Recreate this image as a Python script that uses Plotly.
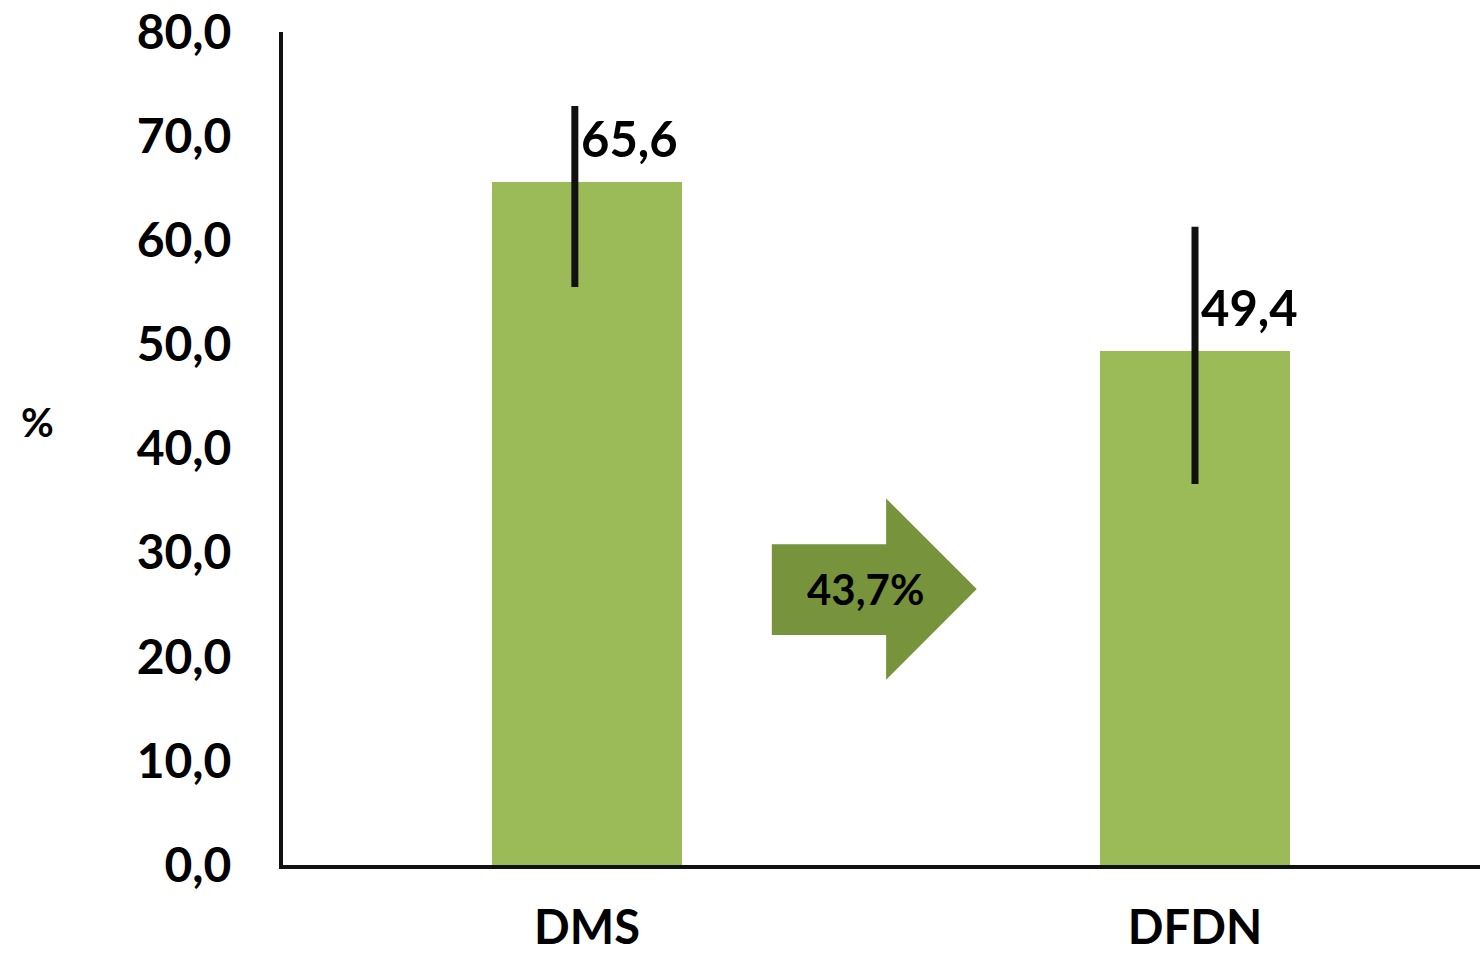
import plotly.graph_objects as go

# Data
categories = ["DMS", "DFDN"]
values = [65.6, 49.4]
err_low = [55.5, 36.6]
err_high = [72.9, 61.3]
err_offset = [-0.02, 0.0]  # horizontal offset of each error line (category units)
value_labels = ["65,6", "49,4"]
change_label = "43,7%"
y_ticks = [0, 10, 20, 30, 40, 50, 60, 70, 80]

BAR_COLOR = "#9BBB59"
ARROW_COLOR = "#77933C"
FONT = "Lato"

x_pos = list(range(len(categories)))

fig = go.Figure()

fig.add_trace(go.Bar(
    x=x_pos, y=values, width=0.314,
    marker=dict(color=BAR_COLOR, line=dict(width=0)),
    showlegend=False, hoverinfo="skip",
))

# Error lines
for xi, lo, hi, off in zip(x_pos, err_low, err_high, err_offset):
    fig.add_trace(go.Scatter(
        x=[xi + off, xi + off], y=[lo, hi], mode="lines",
        line=dict(color="#111111", width=7),
        showlegend=False, hoverinfo="skip",
    ))

# Value labels next to the error lines
for xi, v, txt, off in zip(x_pos, values, value_labels, err_offset):
    fig.add_annotation(
        x=xi + off, y=v, text=f"<b>{txt}</b>", showarrow=False,
        xanchor="left", yanchor="middle", xshift=4, yshift=44,
        font=dict(family=FONT, size=49, color="#000000"),
    )

# Block arrow between the bars, with the change label
ax0, ax1, ax2 = 0.304, 0.492, 0.641
by0, by1 = 22.1, 30.8
hy0, hy1, hmid = 17.8, 35.2, 26.5
path = (f"M {ax0},{by0} L {ax0},{by1} L {ax1},{by1} L {ax1},{hy1} "
        f"L {ax2},{hmid} L {ax1},{hy0} L {ax1},{by0} Z")
fig.add_shape(type="path", path=path, xref="x", yref="y",
              fillcolor=ARROW_COLOR, line=dict(width=0), layer="above")
fig.add_annotation(
    x=(ax0 + ax2) / 2 - 0.015, y=hmid, text=f"<b>{change_label}</b>", showarrow=False,
    xanchor="center", yanchor="middle",
    font=dict(family=FONT, size=42, color="#000000"),
)

# Axis unit label
fig.add_annotation(
    xref="paper", yref="paper", x=0, y=0.532, xshift=-246,
    text="<b>%</b>", showarrow=False, xanchor="center", yanchor="middle",
    font=dict(family=FONT, size=40, color="#000000"),
)

fig.update_layout(
    width=1480, height=955,
    margin=dict(l=283, r=0, t=32, b=90),
    paper_bgcolor="white", plot_bgcolor="white",
    separators=",.",
    font=dict(family=FONT, color="#000000"),
    showlegend=False,
    bargap=0,
)

fig.update_xaxes(
    range=[-0.5, -0.5 + 1197 / 608],
    tickmode="array", tickvals=x_pos, ticktext=[f"<b>{c}</b>" for c in categories],
    tickfont=dict(family=FONT, size=47, color="#000000"),
    showline=True, linecolor="#111111", linewidth=4,
    showgrid=False, zeroline=False, ticks="",
    ticklabelstandoff=19, automargin=False,
)

fig.update_yaxes(
    range=[0, 80],
    tickmode="array", tickvals=y_ticks,
    ticktext=[f"<b>{t:.1f}</b>".replace(".", ",") for t in y_ticks],
    tickfont=dict(family=FONT, size=48, color="#000000"),
    showline=True, linecolor="#111111", linewidth=4,
    showgrid=False, zeroline=False, ticks="",
    ticklabelstandoff=38, automargin=False,
)

fig.write_html("out.html")
